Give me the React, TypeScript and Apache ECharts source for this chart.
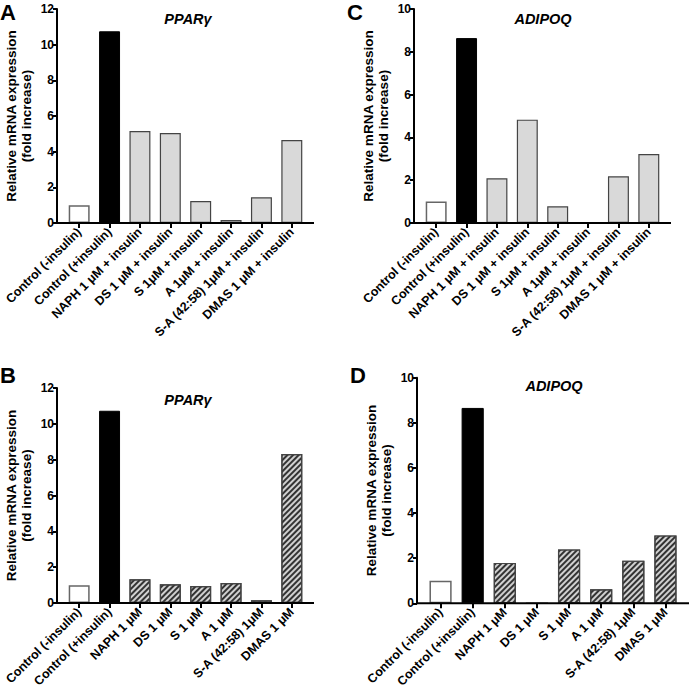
import React, { useEffect, useRef } from "react";
import * as echarts from "echarts";

const categoriesInsulin = [
  "Control (-insulin)",
  "Control (+insulin)",
  "NAPH 1 μM + insulin",
  "DS 1 μM + insulin",
  "S 1μM + insulin",
  "A 1μM + insulin",
  "S-A (42:58) 1μM + insulin",
  "DMAS 1 μM + insulin",
];
const categoriesAlone = [
  "Control (-insulin)",
  "Control (+insulin)",
  "NAPH 1 μM",
  "DS 1 μM",
  "S 1 μM",
  "A 1 μM",
  "S-A (42:58) 1μM",
  "DMAS 1 μM",
];
const ppargInsulin = [1.0, 10.75, 5.16, 5.05, 1.23, 0.17, 1.44, 4.65];
const adipoqInsulin = [1.0, 8.64, 2.09, 4.83, 0.78, 0, 2.18, 3.22];
const ppargAlone = [0.99, 10.73, 1.32, 1.04, 0.95, 1.12, 0.15, 8.32];
const adipoqAlone = [1.0, 8.66, 1.79, 0, 2.39, 0.62, 1.89, 3.01];

const panelLetters = ["A", "B", "C", "D"];
const geneTitles = ["PPARγ", "PPARγ", "ADIPOQ", "ADIPOQ"];
const yMaxes = [12, 12, 10, 10];

const FONT = "Liberation Sans, Arial, Helvetica, sans-serif";

// layout: axis x extents (axis line), top, bottom
const panels = [
  { x0: 57, x1: 314, top: 9, bottom: 223, pad: 7, titleX: 188, titleY: 19, letterX: 0, letterY: 12 },
  { x0: 57, x1: 314, top: 388, bottom: 603, pad: 7, titleX: 188, titleY: 400, letterX: 0, letterY: 375 },
  { x0: 414, x1: 671, top: 9, bottom: 223, pad: 7, titleX: 543, titleY: 19, letterX: 347, letterY: 12 },
  { x0: 417, x1: 689, top: 377.7, bottom: 603.3, pad: 7.5, titleX: 554, titleY: 386, letterX: 350, letterY: 375 },
];

const hatchDecal = {
  symbol: "rect",
  symbolSize: 1,
  dashArrayX: [[1, 0]],
  dashArrayY: [1.1, 1.3],
  rotation: -Math.PI / 4,
  color: "#333333",
};

function itemStyles(values: number[], hatched: boolean) {
  return values.map((v, i) => {
    if (i === 0) {
      return { value: v, itemStyle: { color: "#ffffff", borderColor: "#666", borderWidth: 1.5 } };
    }
    if (i === 1) {
      return { value: v, itemStyle: { color: "#000000", borderColor: "#000", borderWidth: 1 } };
    }
    if (hatched) {
      return {
        value: v,
        itemStyle: { color: "#d0d0d0", borderColor: "#444", borderWidth: 1.2, decal: hatchDecal },
      };
    }
    return { value: v, itemStyle: { color: "#d9d9d9", borderColor: "#444", borderWidth: 1.2 } };
  });
}

export default function App() {
  const ref = useRef<HTMLDivElement>(null);
  useEffect(() => {
    document.body.style.margin = "0";
    if (!ref.current) return;
    const chart = echarts.init(ref.current, null, { renderer: "svg" });

    const seriesData = [
      { cats: categoriesInsulin, vals: ppargInsulin, hatched: false },
      { cats: categoriesAlone, vals: ppargAlone, hatched: true },
      { cats: categoriesInsulin, vals: adipoqInsulin, hatched: false },
      { cats: categoriesAlone, vals: adipoqAlone, hatched: true },
    ];

    const grid = panels.map((p) => ({
      left: p.x0 + p.pad,
      top: p.top,
      width: p.x1 - p.x0 - 2 * p.pad,
      height: p.bottom - p.top,
      containLabel: false,
    }));

    const xAxis = seriesData.map((s, i) => ({
      type: "category",
      gridIndex: i,
      data: s.cats,
      axisLine: { show: false },
      axisTick: { show: true, alignWithLabel: true, length: 5, lineStyle: { color: "#000", width: 2 } },
      axisLabel: {
        rotate: 45,
        interval: 0,
        margin: 7,
        color: "#000",
        fontFamily: FONT,
        fontWeight: "bold",
        fontSize: 12.5,
      },
    }));

    const yAxis = seriesData.map((s, i) => ({
      type: "value",
      gridIndex: i,
      min: 0,
      max: yMaxes[i],
      interval: 2,
      offset: panels[i].pad,
      splitLine: { show: false },
      axisLine: { show: true, lineStyle: { color: "#000", width: 2 } },
      axisTick: { show: true, length: 4, lineStyle: { color: "#000", width: 2 } },
      axisLabel: { color: "#000", fontFamily: FONT, fontWeight: "bold", fontSize: 12, margin: 3 },
      name: "Relative mRNA expression\n(fold increase)",
      nameLocation: "middle",
      nameGap: 23,
      nameTextStyle: {
        color: "#000",
        fontFamily: FONT,
        fontWeight: "bold",
        fontSize: 13.5,
        lineHeight: 15,
      },
    }));

    const series = seriesData.map((s, i) => ({
      type: "bar",
      xAxisIndex: i,
      yAxisIndex: i,
      data: itemStyles(s.vals, s.hatched),
      barCategoryGap: "31%",
    }));

    const graphic: any[] = [];
    panels.forEach((p, i) => {
      graphic.push({
        type: "line",
        shape: { x1: p.x0 - 1, y1: p.bottom, x2: p.x1, y2: p.bottom },
        style: { stroke: "#000", lineWidth: 2 },
        z: 100,
      });
      graphic.push({
        type: "text",
        x: p.titleX,
        y: p.titleY,
        style: {
          text: geneTitles[i],
          fill: "#000",
          font: `italic bold 14.5px ${FONT}`,
          align: "center",
          verticalAlign: "middle",
        },
      });
      graphic.push({
        type: "text",
        x: p.letterX,
        y: p.letterY,
        style: {
          text: panelLetters[i],
          fill: "#000",
          font: `bold 22px ${FONT}`,
          align: "left",
          verticalAlign: "middle",
        },
      });
    });

    chart.setOption({
      animation: false,
      backgroundColor: "#fff",
      grid,
      xAxis,
      yAxis,
      series,
      graphic,
    } as any);
    return () => chart.dispose();
  }, []);
  return <div ref={ref} style={{ width: 692, height: 693 }} />;
}
